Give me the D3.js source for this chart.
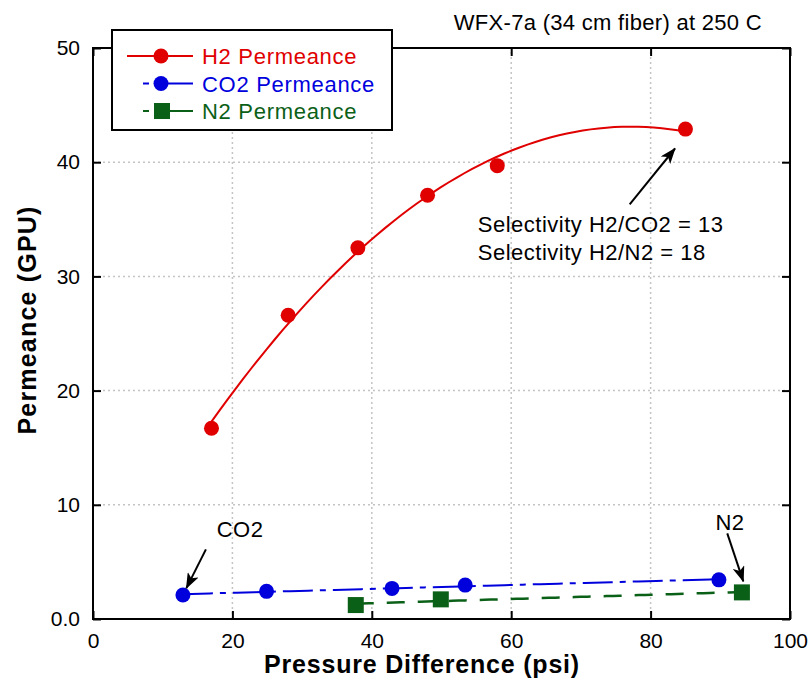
<!DOCTYPE html>
<html>
    <head>
        <title>Permeance vs Pressure</title>
        <meta charset="UTF-8">
        <style>
            body { margin: 0; background: #ffffff; }
            text { font-family: Arial, "Liberation Sans", sans-serif; }
        </style>
    </head>
    <body>
        <script src="https://cdn.jsdelivr.net/npm/d3@7"></script>
        <script>

            //Values.
            var pressureH2 = [17, 28, 38, 48, 58, 85],
                permeanceH2 = [16.7, 26.6, 32.5, 37.1, 39.7, 42.9];
            var pressureCO2 = [12.9, 24.9, 42.9, 53.4, 89.8],
                permeanceCO2 = [2.1, 2.42, 2.68, 2.97, 3.43];
            var pressureN2 = [37.7, 49.9, 93.1],
                permeanceN2 = [1.22, 1.72, 2.33];
            var xTicks = [0, 20, 40, 60, 80, 100],
                yTicks = [0, 10, 20, 30, 40, 50];
            var legendLabels = ["H2 Permeance", "CO2 Permeance", "N2 Permeance"];

            var red = "#e00000", blue = "#0000dd", green = "#0b6018";

            var svg = d3.select("body").append("svg")
                        .attr("width", 811)
                        .attr("height", 683);

            var x = d3.scaleLinear().domain([0, 100]).range([93, 790]),
                y = d3.scaleLinear().domain([0, 50]).range([619, 48]);

            svg.append("defs")
               .append("marker")
                  .attr("id", "arrowEnd")
                  .attr("markerWidth", 16)
                  .attr("markerHeight", 12)
                  .attr("markerUnits", "userSpaceOnUse")
                  .attr("orient", "auto")
                  .attr("refX", 15)
                  .attr("refY", 6)
                  .append("path")
                    .attr("d", "M0,0 L16,6 L0,12 L4,6 Z")
                    .attr("fill", "#000");

            //Dotted grid.
            svg.append("g").selectAll("line")
               .data(xTicks.slice(1, -1)).enter().append("line")
                  .attr("x1", d => x(d)).attr("x2", d => x(d))
                  .attr("y1", y(0)).attr("y2", y(50))
                  .attr("stroke", "#c4c4c4").attr("stroke-width", 1.5)
                  .attr("stroke-dasharray", "2,3");
            svg.append("g").selectAll("line")
               .data(yTicks.slice(1, -1)).enter().append("line")
                  .attr("x1", x(0)).attr("x2", x(100))
                  .attr("y1", d => y(d)).attr("y2", d => y(d))
                  .attr("stroke", "#c4c4c4").attr("stroke-width", 1.5)
                  .attr("stroke-dasharray", "2,3");

            //Axes with inward ticks.
            function styleAxis(g) {
                g.select(".domain").remove();
                g.selectAll(".tick line").attr("stroke", "#000").attr("stroke-width", 2);
                g.selectAll("text").attr("font-size", 21).attr("fill", "#000")
                 .attr("font-family", "Arial, 'Liberation Sans', sans-serif");
            }
            svg.append("g").attr("transform", "translate(0," + y(0) + ")")
               .call(d3.axisBottom(x).tickValues(xTicks).tickSize(-8).tickPadding(14))
               .call(styleAxis);
            svg.append("g").attr("transform", "translate(" + x(0) + ",0)")
               .call(d3.axisLeft(y).tickValues(yTicks).tickSize(-8).tickPadding(13)
                       .tickFormat(d => d === 0 ? "0.0" : d))
               .call(styleAxis);
            svg.append("g").attr("transform", "translate(0," + y(50) + ")")
               .call(d3.axisTop(x).tickValues(xTicks).tickSize(-8).tickFormat(""))
               .call(styleAxis);
            svg.append("g").attr("transform", "translate(" + x(100) + ",0)")
               .call(d3.axisRight(y).tickValues(yTicks).tickSize(-8).tickFormat(""))
               .call(styleAxis);

            //Plot frame.
            svg.append("rect")
               .attr("x", x(0)).attr("y", y(50))
               .attr("width", x(100) - x(0)).attr("height", y(0) - y(50))
               .attr("fill", "none").attr("stroke", "#000").attr("stroke-width", 2);

            //Least squares polynomial fit (degree 1 or 2).
            function polyFit(xs, ys, degree) {
                var n = degree + 1, A = [], b = [];
                for (var i = 0; i < n; i++) {
                    A.push([]);
                    for (var j = 0; j < n; j++) A[i].push(d3.sum(xs, v => Math.pow(v, i + j)));
                    b.push(d3.sum(xs, (v, k) => Math.pow(v, i) * ys[k]));
                }
                //Gaussian elimination.
                for (var c = 0; c < n; c++) {
                    for (var r = c + 1; r < n; r++) {
                        var f = A[r][c] / A[c][c];
                        for (var k = c; k < n; k++) A[r][k] -= f * A[c][k];
                        b[r] -= f * b[c];
                    }
                }
                var coef = new Array(n).fill(0);
                for (var r2 = n - 1; r2 >= 0; r2--) {
                    var s = b[r2];
                    for (var k2 = r2 + 1; k2 < n; k2++) s -= A[r2][k2] * coef[k2];
                    coef[r2] = s / A[r2][r2];
                }
                return v => coef.reduce((acc, cf, p) => acc + cf * Math.pow(v, p), 0);
            }

            function fitLine(xs, ys, degree, color, width, dash) {
                var fn = polyFit(xs, ys, degree);
                var lo = d3.min(xs), hi = d3.max(xs);
                var pts = d3.range(0, 61).map(i => lo + (hi - lo) * i / 60);
                svg.append("path")
                   .attr("d", d3.line().x(d => x(d)).y(d => y(fn(d)))(pts))
                   .attr("fill", "none").attr("stroke", color)
                   .attr("stroke-width", width)
                   .attr("stroke-dasharray", dash);
            }

            fitLine(pressureH2, permeanceH2, 2, red, 2, null);
            fitLine(pressureCO2, permeanceCO2, 1, blue, 2, "30,7,6,7");
            fitLine(pressureN2, permeanceN2, 1, green, 2.5, "18,13");

            //Markers.
            function circles(xs, ys, color) {
                svg.append("g").selectAll("circle")
                   .data(xs).enter().append("circle")
                      .attr("cx", d => x(d)).attr("cy", (d, i) => y(ys[i]))
                      .attr("r", 7.5).attr("fill", color);
            }
            circles(pressureH2, permeanceH2, red);
            circles(pressureCO2, permeanceCO2, blue);
            svg.append("g").selectAll("rect")
               .data(pressureN2).enter().append("rect")
                  .attr("x", d => x(d) - 8).attr("y", (d, i) => y(permeanceN2[i]) - 8)
                  .attr("width", 16).attr("height", 16).attr("fill", green);

            //Legend.
            svg.append("rect")
               .attr("x", 112).attr("y", 30).attr("width", 280).attr("height", 100)
               .attr("fill", "#fff").attr("stroke", "#000").attr("stroke-width", 2);
            var legColors = [red, blue, green],
                legDash = [null, "6,5,40,0", "6,5,40,0"],
                legStart = [127, 143, 143];
            legendLabels.forEach(function (label, i) {
                var ly = 56 + i * 27.5;
                svg.append("line")
                   .attr("x1", legStart[i]).attr("x2", 193).attr("y1", ly).attr("y2", ly)
                   .attr("stroke", legColors[i]).attr("stroke-width", 2)
                   .attr("stroke-dasharray", legDash[i]);
                if (i < 2) {
                    svg.append("circle").attr("cx", 161).attr("cy", ly).attr("r", 7.5).attr("fill", legColors[i]);
                } else {
                    svg.append("rect").attr("x", 154).attr("y", ly - 8).attr("width", 16).attr("height", 16).attr("fill", legColors[i]);
                }
                svg.append("text")
                   .attr("x", 202).attr("y", ly + 8)
                   .attr("font-size", 22).attr("letter-spacing", 0.7)
                   .attr("fill", legColors[i]).text(label);
            });

            //Title and annotations.
            svg.append("text")
               .attr("x", 762).attr("y", 30).attr("text-anchor", "end")
               .attr("font-size", 22).attr("letter-spacing", 0.3).attr("fill", "#000")
               .text("WFX-7a (34 cm fiber) at 250 C");

            function arrow(x1, y1, x2, y2) {
                svg.append("line")
                   .attr("x1", x(x1)).attr("y1", y(y1))
                   .attr("x2", x(x2)).attr("y2", y(y2))
                   .attr("stroke", "#000").attr("stroke-width", 2)
                   .attr("marker-end", "url(#arrowEnd)");
            }
            arrow(77.0, 36.3, 83.5, 41.2);
            arrow(16.2, 6.1, 13.4, 2.7);
            arrow(91.0, 7.5, 93.3, 3.3);

            function note(px, py, str, anchor) {
                svg.append("text")
                   .attr("x", x(px)).attr("y", y(py)).attr("text-anchor", anchor)
                   .attr("font-size", 22).attr("letter-spacing", 0.5).attr("fill", "#000")
                   .text(str);
            }
            note(55.2, 33.9, "Selectivity H2/CO2 = 13", "start");
            note(55.2, 31.45, "Selectivity H2/N2 = 18", "start");
            note(21.1, 7.2, "CO2", "middle");
            note(91.4, 7.75, "N2", "middle");

            //Axis titles.
            svg.append("text")
               .attr("x", 422).attr("y", 673).attr("text-anchor", "middle")
               .attr("font-size", 25).attr("font-weight", "bold").attr("letter-spacing", 0.8)
               .attr("fill", "#000").text("Pressure Difference (psi)");
            svg.append("text")
               .attr("transform", "translate(36,320) rotate(-90)")
               .attr("text-anchor", "middle")
               .attr("font-size", 25).attr("font-weight", "bold").attr("letter-spacing", 1.2)
               .attr("fill", "#000").text("Permeance (GPU)");

        </script>
    </body>
</html>
